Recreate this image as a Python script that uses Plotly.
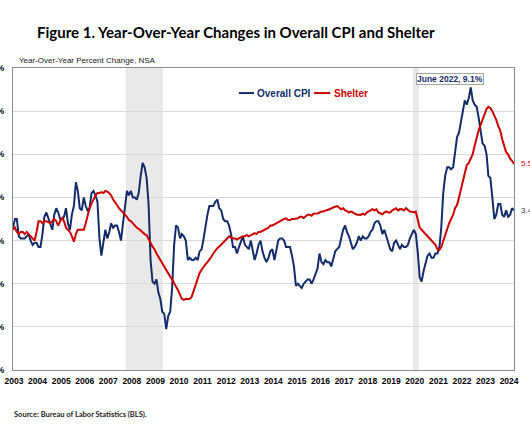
import plotly.graph_objects as go
import pandas as pd

# Monthly data, Jan 2003 - Apr 2024
dates = pd.date_range("2003-01-01", "2024-04-01", freq="MS")

cpi = [
    2.6, 3.0, 3.0, 2.2, 2.1, 2.1, 2.1, 2.2, 2.3, 2.0, 1.8, 1.9,   # 2003
    1.9, 1.7, 1.7, 2.3, 3.1, 3.3, 3.0, 2.7, 2.5, 3.2, 3.5, 3.3,   # 2004
    3.0, 3.0, 3.1, 3.5, 2.8, 2.5, 3.2, 3.6, 4.7, 4.3, 3.5, 3.4,   # 2005
    4.0, 3.6, 3.4, 3.5, 4.2, 4.3, 4.1, 3.8, 2.1, 1.3, 2.0, 2.5,   # 2006
    2.1, 2.4, 2.8, 2.6, 2.7, 2.7, 2.4, 2.0, 2.8, 3.5, 4.3, 4.1,   # 2007
    4.3, 4.0, 4.0, 3.9, 4.2, 5.0, 5.6, 5.4, 4.9, 3.7, 1.1, 0.1,   # 2008
    0.0, 0.2, -0.4, -0.7, -1.3, -1.4, -2.1, -1.5, -1.3, -0.2, 1.8, 2.7,  # 2009
    2.6, 2.1, 2.3, 2.2, 2.0, 1.1, 1.2, 1.1, 1.1, 1.2, 1.1, 1.5,   # 2010
    1.6, 2.1, 2.7, 3.2, 3.6, 3.6, 3.6, 3.8, 3.9, 3.5, 3.4, 3.0,   # 2011
    2.9, 2.9, 2.7, 2.3, 1.7, 1.7, 1.4, 1.7, 2.0, 2.2, 1.8, 1.7,   # 2012
    1.6, 2.0, 1.5, 1.1, 1.4, 1.8, 2.0, 1.5, 1.2, 1.0, 1.2, 1.5,   # 2013
    1.6, 1.1, 1.5, 2.0, 2.1, 2.1, 2.0, 1.7, 1.7, 1.7, 1.3, 0.8,   # 2014
    -0.1, 0.0, -0.1, -0.2, 0.0, 0.1, 0.2, 0.2, 0.0, 0.2, 0.5, 0.7,  # 2015
    1.4, 1.0, 0.9, 1.1, 1.0, 1.0, 0.8, 1.1, 1.5, 1.6, 1.7, 2.1,   # 2016
    2.5, 2.7, 2.4, 2.2, 1.9, 1.6, 1.7, 1.9, 2.2, 2.0, 2.2, 2.1,   # 2017
    2.1, 2.2, 2.4, 2.5, 2.8, 2.9, 2.9, 2.7, 2.3, 2.5, 2.2, 1.9,   # 2018
    1.6, 1.5, 1.9, 2.0, 1.8, 1.6, 1.8, 1.7, 1.7, 1.8, 2.1, 2.3,   # 2019
    2.5, 2.3, 1.5, 0.3, 0.1, 0.6, 1.0, 1.3, 1.4, 1.2, 1.2, 1.4,   # 2020
    1.4, 1.7, 2.6, 4.2, 5.0, 5.4, 5.4, 5.3, 5.4, 6.2, 6.8, 7.0,   # 2021
    7.5, 7.9, 8.5, 8.3, 8.6, 9.1, 8.5, 8.3, 8.2, 7.7, 7.1, 6.5,   # 2022
    6.4, 6.0, 5.0, 4.9, 4.0, 3.0, 3.2, 3.7, 3.7, 3.2, 3.1, 3.4,   # 2023
    3.1, 3.2, 3.5, 3.4,                                           # 2024
]

shelter = [
    2.5, 2.6, 2.4, 2.3, 2.4, 2.4, 2.3, 2.4, 2.3, 2.2, 2.1, 2.0,   # 2003
    2.4, 2.9, 2.9, 2.8, 2.9, 2.9, 2.85, 2.8, 2.9, 3.0, 2.9, 2.7,  # 2004
    2.9, 3.05, 2.9, 2.6, 2.5, 2.4, 2.2, 1.95, 2.3, 2.5, 2.5, 2.5, # 2005
    2.5, 2.8, 3.2, 3.5, 3.7, 3.9, 4.1, 4.2, 4.2, 4.25, 4.2, 4.3,  # 2006
    4.27, 4.2, 4.1, 3.9, 3.8, 3.65, 3.5, 3.4, 3.3, 3.2, 3.1, 2.95,  # 2007
    2.9, 2.8, 2.7, 2.6, 2.55, 2.45, 2.4, 2.3, 2.25, 2.1, 1.9, 1.72,  # 2008
    1.6, 1.4, 1.25, 1.1, 0.95, 0.8, 0.6, 0.45, 0.33, 0.2, 0.0, -0.14,  # 2009
    -0.3, -0.5, -0.7, -0.75, -0.7, -0.72, -0.7, -0.6, -0.3, 0.0, 0.3, 0.5,  # 2010
    0.65, 0.8, 0.9, 1.0, 1.1, 1.25, 1.4, 1.55, 1.65, 1.72, 1.8, 1.9,  # 2011
    2.0, 2.1, 2.2, 2.15, 2.1, 2.1, 2.05, 2.1, 2.15, 2.2, 2.2, 2.26,  # 2012
    2.2, 2.25, 2.3, 2.35, 2.3, 2.4, 2.4, 2.45, 2.5, 2.55, 2.6, 2.7,  # 2013
    2.7, 2.75, 2.8, 2.85, 2.9, 2.95, 3.0, 3.03, 2.95, 2.95, 3.0, 3.0,  # 2014
    3.0, 3.03, 3.1, 3.1, 3.05, 3.15, 3.2, 3.2, 3.15, 3.25, 3.25, 3.26,  # 2015
    3.3, 3.35, 3.35, 3.4, 3.42, 3.45, 3.5, 3.55, 3.57, 3.6, 3.5, 3.45,  # 2016
    3.5, 3.4, 3.37, 3.3, 3.35, 3.3, 3.25, 3.2, 3.2, 3.19, 3.25, 3.2,  # 2017
    3.3, 3.35, 3.4, 3.46, 3.4, 3.45, 3.3, 3.25, 3.22, 3.3, 3.35, 3.3,  # 2018
    3.3, 3.4, 3.45, 3.5, 3.4, 3.46, 3.45, 3.4, 3.5, 3.42, 3.35, 3.34,  # 2019
    3.3, 3.34, 3.0, 2.6, 2.5, 2.4, 2.3, 2.2, 2.1, 2.0, 1.87, 1.8,  # 2020
    1.6, 1.56, 1.7, 2.0, 2.2, 2.5, 2.8, 3.0, 3.2, 3.5, 3.65, 4.0,  # 2021
    4.4, 4.8, 5.2, 5.5, 5.6, 5.8, 6.0, 6.4, 6.8, 7.1, 7.36, 7.6,  # 2022
    7.9, 8.1, 8.2, 8.15, 8.0, 7.8, 7.6, 7.3, 7.1, 6.7, 6.4, 6.1,  # 2023
    6.0, 5.8, 5.7, 5.55,                                          # 2024
]

years = list(range(2003, 2025))
tick_dates = [f"{y}-01-16" for y in years]
tick_text = [str(y) for y in years]

y_ticks = [-4, -2, 0, 2, 4, 6, 8, 10]
y_tick_text = [f"{v}%" for v in y_ticks]

recessions = [("2007-10-15", "2009-05-10"), ("2019-12-20", "2020-03-20")]

NAVY = "#132c6b"
RED = "#cc0000"

fig = go.Figure()
fig.add_trace(go.Scatter(x=dates, y=cpi, mode="lines", name="Overall CPI",
                         line=dict(color=NAVY, width=2), showlegend=False))
fig.add_trace(go.Scatter(x=dates, y=shelter, mode="lines", name="Shelter",
                         line=dict(color=RED, width=2), showlegend=False))

for x0, x1 in recessions:
    fig.add_shape(type="rect", xref="x", yref="paper", x0=x0, x1=x1, y0=0, y1=1,
                  fillcolor="#e9e9e9", line=dict(width=0), layer="below")

# manual legend
fig.add_shape(type="line", xref="paper", yref="paper", x0=0.451, x1=0.481, y0=0.917, y1=0.917,
              line=dict(color=NAVY, width=2))
fig.add_shape(type="line", xref="paper", yref="paper", x0=0.601, x1=0.633, y0=0.917, y1=0.917,
              line=dict(color=RED, width=2))
fig.add_annotation(xref="paper", yref="paper", x=0.484, y=0.917, xanchor="left", yanchor="middle",
                   text="<b>Overall CPI</b>", showarrow=False,
                   font=dict(family="Liberation Sans", size=10, color=NAVY))
fig.add_annotation(xref="paper", yref="paper", x=0.636, y=0.917, xanchor="left", yanchor="middle",
                   text="<b>Shelter</b>", showarrow=False,
                   font=dict(family="Liberation Sans", size=10, color=RED))

# peak callout
fig.add_annotation(x="2022-06-01", y=cpi[dates.get_loc(pd.Timestamp("2022-06-01"))],
                   text="<b>June 2022, 9.1%</b>", showarrow=False, xanchor="center", yanchor="bottom",
                   xshift=-21, yshift=2, bgcolor="white", bordercolor="#a6a6a6", borderwidth=1,
                   borderpad=0, font=dict(family="Liberation Sans", size=8.5, color=NAVY))

# end labels
fig.add_annotation(x=dates[-1], y=shelter[-1], text=f"{shelter[-1]:.1f}%", showarrow=False,
                   xanchor="left", yanchor="middle", xshift=5,
                   font=dict(family="Liberation Sans", size=8, color=RED))
fig.add_annotation(x=dates[-1], y=cpi[-1], text=f"{cpi[-1]:.1f}%", showarrow=False,
                   xanchor="left", yanchor="middle", xshift=5,
                   font=dict(family="Liberation Sans", size=8, color="#404040"))

# subtitle and source
fig.add_annotation(xref="paper", yref="paper", x=(17 - 13) / 501, y=(370 - 60) / 302,
                   xanchor="left", yanchor="middle", showarrow=False,
                   text="Year-Over-Year Percent Change, NSA",
                   font=dict(family="Liberation Sans", size=8, color="#222222"))
fig.add_annotation(xref="paper", yref="paper", x=(12 - 13) / 501, y=(370 - 414) / 302,
                   xanchor="left", yanchor="middle", showarrow=False,
                   text="<b>Source: Bureau of Labor Statistics (BLS).</b>",
                   font=dict(family="Lato", size=7.5, color="#222222"))

fig.update_layout(
    width=530, height=442,
    margin=dict(l=13, r=16, t=68, b=72),
    paper_bgcolor="white", plot_bgcolor="white",
    title=dict(text="<b>Figure 1. Year-Over-Year Changes in Overall CPI and Shelter</b>",
               x=37 / 530, xanchor="left", xref="container",
               y=1 - 33 / 442, yanchor="middle", yref="container",
               font=dict(family="Lato", size=15, color="black")),
    xaxis=dict(type="date", range=[dates[0], dates[-1]], tickvals=tick_dates, ticktext=tick_text,
               showgrid=False, showline=True, linecolor="#8c8c8c", linewidth=1, mirror=True,
               ticks="", tickfont=dict(family="Liberation Sans", size=8.5, color="black", weight="bold"),
               automargin=False, ticklabelstandoff=3),
    yaxis=dict(range=[-4, 10], tickvals=y_ticks, ticktext=y_tick_text, showgrid=True, gridcolor="#d9d9d9",
               showline=True, linecolor="#8c8c8c", linewidth=1, mirror=True, zeroline=False,
               ticks="", tickfont=dict(family="Liberation Sans", size=8.5, color="black", weight="bold"),
               automargin=False, ticklabelstandoff=6),
)

fig.write_html("out.html", config={"displayModeBar": False},
               post_script="document.body.style.margin='0';")
